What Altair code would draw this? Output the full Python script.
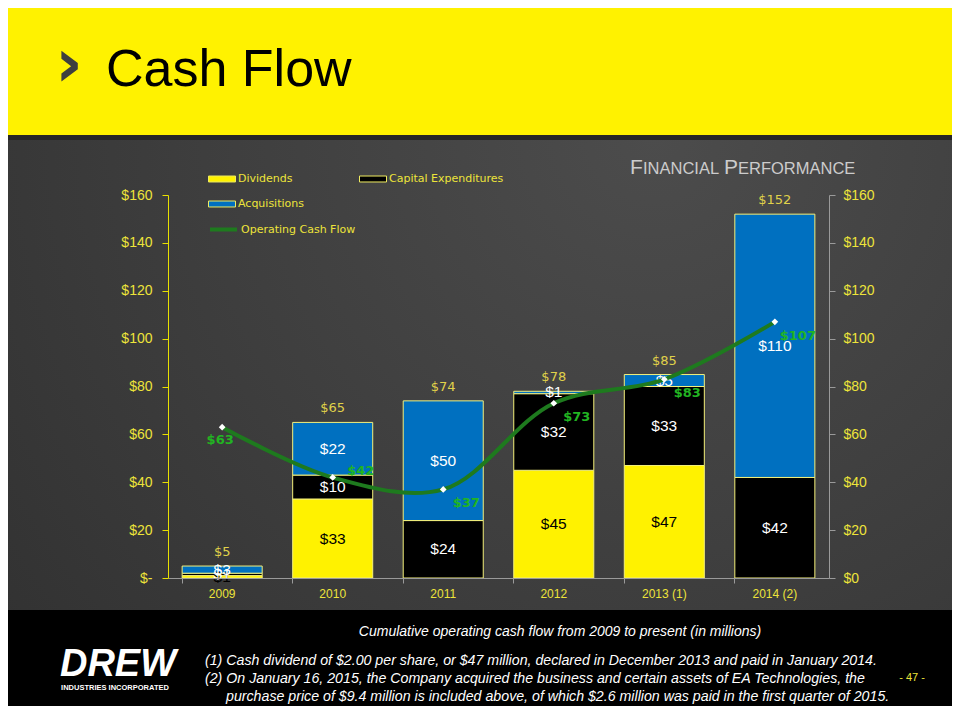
import altair as alt
import pandas as pd

# chart values (millions of dollars)
years = ["2009", "2010", "2011", "2012", "2013 (1)", "2014 (2)"]
dividends = [1, 33, 0, 45, 47, 0]
capex = [1, 10, 24, 32, 33, 42]
acquisitions = [3, 22, 50, 1, 5, 110]
operating_cash_flow = [63, 42, 37, 73, 83, 107]

series_names = ["Dividends", "Capital Expenditures", "Acquisitions"]
series_colors = ["#FFF200", "#000000", "#0070C0"]

footnotes = [
    "(1)  Cash dividend of $2.00 per share, or $47 million, declared in December 2013 and paid in January 2014.",
    "(2)  On January 16, 2015, the Company acquired the business and certain assets of EA Technologies, the",
    "purchase price of $9.4 million is included above, of which $2.6 million was paid in the first quarter of 2015.",
]

YELLOW = "#FFF200"
AXIS_YELLOW = "#EDE43A"
TOTAL_YELLOW = "#E0D24A"
GREEN_LINE = "#1E7A1E"
GREEN_TEXT = "#22B422"
W, H = 661, 383
PAD_L, PAD_T = 160, 187

bars_df = pd.DataFrame({
    "year": years * 3,
    "series": [s for s in series_names for _ in years],
    "order": [i for i in range(3) for _ in years],
    "value": dividends + capex + acquisitions,
})
line_df = pd.DataFrame({"year": years, "ocf": operating_cash_flow})
one = pd.DataFrame({"k": [0]})

x_enc = alt.X("year:N", sort=years, title=None,
              scale=alt.Scale(paddingInner=0.276, paddingOuter=0.128),
              axis=alt.Axis(bandPosition=0, labelColor=AXIS_YELLOW, labelFontSize=12,
                            labelFont="Liberation Sans", domainColor="#9A9A9A",
                            tickColor="#9A9A9A", tickSize=5, labelPadding=5,
                            labelAngle=0, zindex=1))
y_scale = alt.Scale(domain=[0, 160], nice=False)
y_ticks = list(range(0, 161, 20))


def rect(color, x1, x2, y1, y2, fill=None):
    m = alt.Chart(one).mark_rect(fill=fill if fill is not None else color, strokeWidth=0)
    return m.encode(x=alt.value(x1 - PAD_L - 8), x2=alt.value(x2 - PAD_L - 8),
                    y=alt.value(y1 - PAD_T - 8), y2=alt.value(y2 - PAD_T - 8))


def label(text, px, py, **kw):
    # px, py are page coordinates
    return alt.Chart(one).mark_text(text=text, **kw).encode(
        x=alt.value(px - PAD_L - 8), y=alt.value(py - PAD_T - 8))


gradient = alt.RadialGradient(
    gradient="radial",
    stops=[alt.GradientStop(color="#4C4C4C", offset=0),
           alt.GradientStop(color="#3E3E3E", offset=0.55),
           alt.GradientStop(color="#323232", offset=1)],
    x1=0.68, y1=0.25, r1=0, x2=0.68, y2=0.25, r2=0.85)

background = alt.layer(
    rect(None, 0, 960, 140, 612, fill=gradient),
    rect(YELLOW, 0, 960, 0, 135),
    rect("#262626", 0, 960, 135, 140),
    rect("#000000", 0, 960, 610, 720),
)

sc = dict(font="Liberation Sans", color="#CCCCCC", align="left", baseline="alphabetic")
header = alt.layer(
    label("›", 69, 66, font="DejaVu Sans", fontWeight="bold", fontSize=68,
          color="#3F3F3F", align="center", baseline="middle"),
    label("Cash Flow", 106, 86, font="Liberation Sans", fontSize=52,
          color="#000000", align="left", baseline="alphabetic"),
    # small caps title
    label("F", 630, 174, fontSize=21, **sc),
    label("INANCIAL", 643, 174, fontSize=16.5, **sc),
    label("P", 724, 174, fontSize=21, **sc),
    label("ERFORMANCE", 738, 174, fontSize=16.5, **sc),
)

footer = alt.layer(
    label("Cumulative operating cash flow from 2009 to present (in millions)", 560, 632,
          font="Liberation Sans", fontStyle="italic", fontSize=14, color="#FFFFFF",
          align="center", baseline="middle"),
    label(footnotes[0], 205, 661, font="Liberation Sans", fontStyle="italic",
          fontSize=14.2, color="#FFFFFF", align="left", baseline="middle"),
    label(footnotes[1], 205, 679, font="Liberation Sans", fontStyle="italic",
          fontSize=14.2, color="#FFFFFF", align="left", baseline="middle"),
    label(footnotes[2], 226, 697, font="Liberation Sans", fontStyle="italic",
          fontSize=14.2, color="#FFFFFF", align="left", baseline="middle"),
    label("- 47 -", 912, 678, font="Liberation Sans", fontSize=11,
          color=AXIS_YELLOW, align="center", baseline="middle"),
    label("DREW", 118, 665, font="Liberation Sans", fontStyle="italic", fontWeight="bold",
          fontSize=38, color="#FFFFFF", align="center", baseline="middle"),
    label("INDUSTRIES INCORPORATED", 115, 688, font="Liberation Sans", fontWeight="bold",
          fontSize=7.5, color="#FFFFFF", align="center", baseline="middle"),
)

bar_base = alt.Chart(bars_df)

bars = bar_base.mark_bar(stroke="#F4F07A", strokeWidth=1).encode(
    x=x_enc,
    y=alt.Y("sum(value):Q", scale=y_scale, title=None,
            axis=alt.Axis(orient="left", values=y_ticks, grid=False, zindex=1,
                          labelExpr="datum.value == 0 ? '$-' : '$' + datum.value",
                          labelColor=AXIS_YELLOW, labelFont="Liberation Sans",
                          labelFontSize=14, domainColor="#E8E000", tickColor="#E8E000",
                          tickSize=6, labelPadding=10)),
    color=alt.Color("series:N", scale=alt.Scale(domain=series_names, range=series_colors),
                    legend=alt.Legend(title=None, orient="none", legendX=40, legendY=-30,
                                      values=["Dividends", "Acquisitions",
                                              "Capital Expenditures"],
                                      columns=2, columnPadding=53, rowPadding=6,
                                      symbolType="M-1,-0.22H1V0.22H-1Z", symbolSize=729,
                                      symbolStrokeColor="#F0EC60", symbolStrokeWidth=1,
                                      labelColor=AXIS_YELLOW, labelFont="DejaVu Sans",
                                      labelFontSize=11, labelOffset=2)),
    order=alt.Order("order:Q", sort="ascending"),
)

seg_labels = bar_base.transform_filter(
    alt.datum.value > 0
).transform_stack(
    stack="value", as_=["v0", "v1"], groupby=["year"], sort=[alt.SortField("order")]
).transform_calculate(
    mid="(datum.v0 + datum.v1) / 2", txt="'$' + datum.value"
).mark_text(font="Liberation Sans", fontSize=15.5, baseline="middle").encode(
    x=alt.X("year:N", sort=years),
    y=alt.Y("mid:Q", scale=y_scale, axis=None),
    text="txt:N",
    color=alt.condition(alt.datum.series == "Dividends", alt.value("#000000"),
                        alt.value("#FFFFFF")),
)

totals = bar_base.transform_aggregate(
    total="sum(value)", groupby=["year"]
).transform_calculate(
    txt="'$' + datum.total"
).mark_text(font="DejaVu Sans", fontSize=13, baseline="bottom", dy=-7,
            color=TOTAL_YELLOW).encode(
    x=alt.X("year:N", sort=years),
    y=alt.Y("total:Q", scale=y_scale, axis=None),
    text="txt:N",
)

line_base = alt.Chart(line_df).transform_calculate(
    kind="'Operating Cash Flow'", txt="'$' + datum.ocf"
)

line = line_base.mark_line(interpolate="catmull-rom", strokeWidth=4).encode(
    x=alt.X("year:N", sort=years),
    y=alt.Y("ocf:Q", scale=y_scale, title=None,
            axis=alt.Axis(orient="right", values=y_ticks, grid=False, zindex=1,
                          labelExpr="'$' + datum.value",
                          labelColor=AXIS_YELLOW, labelFont="Liberation Sans",
                          labelFontSize=14, domainColor="#9A9A9A", tickColor="#9A9A9A",
                          tickSize=6, labelPadding=8)),
    stroke=alt.Stroke("kind:N", scale=alt.Scale(domain=["Operating Cash Flow"],
                                                range=[GREEN_LINE]),
                      legend=alt.Legend(title=None, orient="none", legendX=40, legendY=19,
                                        symbolType="stroke", symbolSize=729,
                                        symbolStrokeWidth=4, labelColor=AXIS_YELLOW,
                                        labelFont="DejaVu Sans", labelFontSize=11,
                                        labelOffset=2)),
)

points = line_base.mark_point(shape="diamond", filled=True, color="#FFFFFF",
                              size=45, opacity=1).encode(
    x=alt.X("year:N", sort=years),
    y=alt.Y("ocf:Q", scale=y_scale, axis=None),
)


def ocf_labels(keep, dx, dy):
    return line_base.transform_filter(
        alt.FieldOneOfPredicate(field="year", oneOf=keep)
    ).mark_text(font="DejaVu Sans", fontWeight="bold", fontSize=13, color=GREEN_TEXT,
                baseline="middle", dx=dx, dy=dy).encode(
        x=alt.X("year:N", sort=years),
        y=alt.Y("ocf:Q", scale=y_scale, axis=None),
        text="txt:N",
    )


chart = alt.layer(
    background, header, footer,
    bars, seg_labels, totals,
    line, points,
    ocf_labels(years[:1], -2, 13),
    ocf_labels(years[1:2], 28, -6),
    ocf_labels(years[2:], 23, 14),
).resolve_scale(
    y="independent"
).resolve_axis(
    y="independent"
).properties(
    width=W, height=H,
    autosize=alt.AutoSizeParams(type="none"),
    padding={"left": PAD_L, "top": PAD_T, "right": 944 - PAD_L - W, "bottom": 698 - PAD_T - H},
).configure(
    background="#333333",
).configure_view(
    strokeWidth=0,
)

chart.save("out.html", embed_options={"renderer": "svg", "actions": False})
